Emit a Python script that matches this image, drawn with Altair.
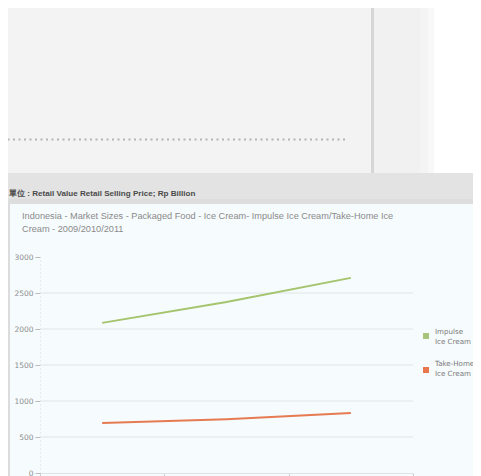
import altair as alt
import pandas as pd

years = ["2009", "2010", "2011"]
series = ["Impulse Ice Cream", "Take-Home Ice Cream"]
impulse = [2085, 2375, 2710]
take_home = [695, 745, 833]
line_colors = ["#a5c46e", "#e67a52"]
legend_colors = ["#a8c47a", "#e8774d"]
legend_labels = ["Impulse\nIce Cream", "Take-Home\nIce Cream"]
y_ticks = [0, 500, 1000, 1500, 2000, 2500, 3000]
grid_values = [500, 1000, 1500, 2000, 2500]
header_text = "單位 : Retail Value Retail Selling Price; Rp Billion"
title_text = "Indonesia - Market Sizes - Packaged Food - Ice Cream- Impulse Ice Cream/Take-Home Ice\nCream - 2009/2010/2011"

NARROW = "Liberation Sans, Arial, sans-serif"

rows = []
for s, vals in zip(series, [impulse, take_home]):
    for y, v in zip(years, vals):
        rows.append({"series": s, "year": y, "value": v})
df = pd.DataFrame(rows)
one = pd.DataFrame({"a": [0]})

def rect(x, x2, y, y2, color):
    return alt.Chart(one).mark_rect(color=color).encode(
        x=alt.value(x), x2=alt.value(x2), y=alt.value(y), y2=alt.value(y2))

decor = [
    rect(-40, 441, -257, -84, "#f3f3f3"),
    rect(334, 380, -257, -84, "#f1f1f1"),
    rect(380, 388, -257, -84, "#f4f4f4"),
    rect(388, 394, -257, -84, "#f8f8f8"),
    rect(394, 441, -257, -84, "#ffffff"),
    rect(331, 334, -257, -84, "#d6d6d6"),
    rect(-40, 441, -84, -53, "#e3e3e3"),
    rect(-40, 441, -58, -53, "#dddddd"),
    rect(-32, -30, -53, 219, "#dcdcdc"),
    alt.Chart(one).mark_rule(color="#b3b3b3", strokeWidth=2, strokeDash=[2, 3.5]).encode(
        x=alt.value(-38), x2=alt.value(308), y=alt.value(-117.5)),
    alt.Chart(one).mark_text(text=header_text, align="left", baseline="middle",
                             font=NARROW, fontSize=8.1, fontWeight="bold", color="#4a4a4a").encode(
        x=alt.value(-31), y=alt.value(-63)),
    alt.Chart(one).mark_text(text=title_text, lineBreak="\n", lineHeight=13, align="left",
                             baseline="middle", font=NARROW, fontSize=9.2, color="#8a8a8a").encode(
        x=alt.value(-18), y=alt.value(-41)),
]

y_axis = alt.Axis(title=None, values=y_ticks, grid=False, format="d", labelFont="DejaVu Sans",
                  labelFontSize=7.5, labelColor="#8d8d8d", tickColor="#bbbbbb", tickSize=5,
                  labelOverlap=False, labelPadding=2, domainColor="#d5dde0", domainDash=[1, 3])
y_scale = alt.Scale(domain=[0, 3000], nice=False)

grid = alt.Chart(pd.DataFrame({"v": grid_values})).mark_rule(color="#e0e6e9", strokeWidth=1).encode(
    y=alt.Y("v:Q", scale=y_scale, axis=y_axis),
)

lines = alt.Chart(df).mark_line(strokeWidth=2).encode(
    x=alt.X("year:O", scale=alt.Scale(type="band", paddingInner=0, paddingOuter=0),
            bandPosition=0.5,
            axis=alt.Axis(title=None, tickBand="extent", labels=False, tickSize=3,
                          tickColor="#cccccc", domainColor="#dde3e6")),
    y=alt.Y("value:Q", scale=y_scale, axis=y_axis),
    color=alt.Color("series:N", scale=alt.Scale(domain=series, range=line_colors), legend=None),
)

legend_layers = []
for i, (s, lab, col) in enumerate(zip(series, legend_labels, legend_colors)):
    yc = 79 + i * 34
    legend_layers.append(
        alt.Chart(one).mark_square(size=36, color=col, opacity=1, filled=True).encode(
            x=alt.value(386), y=alt.value(yc)))
    legend_layers.append(
        alt.Chart(one).mark_text(text=lab, lineBreak="\n", lineHeight=10, align="left", baseline="top",
                                 font="DejaVu Sans", fontSize=7.1, color="#7a7a7a").encode(
            x=alt.value(395), y=alt.value(yc - 8 + (0 if i == 0 else -2))))

chart = alt.layer(*decor, grid, lines, *legend_layers).properties(
    width=373, height=216,
    autosize=alt.AutoSizeParams(type="none"),
    padding={"left": 32, "top": 249, "right": 60, "bottom": 3},
    background="#f6fbfd",
).configure_view(stroke=None)

chart.save("out.html", embed_options={"renderer": "svg", "actions": False})
